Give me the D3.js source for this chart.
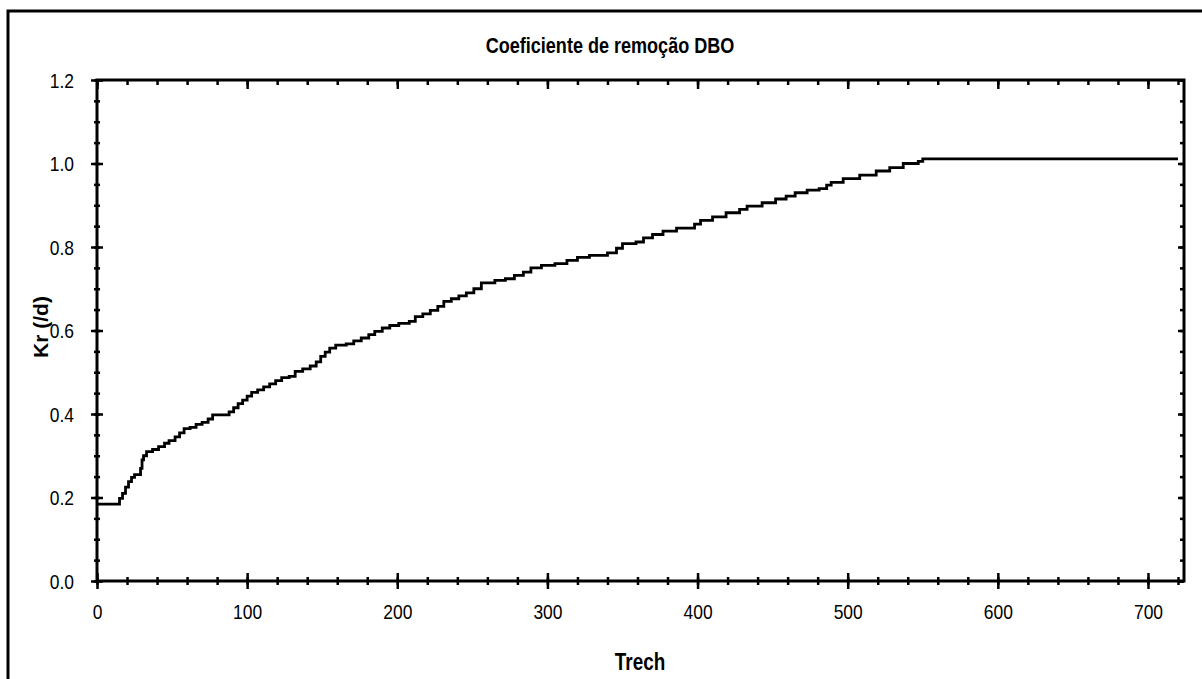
<!DOCTYPE html>
<html>
<head>
<meta charset="utf-8">
<script src="https://cdn.jsdelivr.net/npm/d3@7"></script>
<style>
  body { margin: 0; background: #fff; }
  text { font-family: "Liberation Sans", Arial, sans-serif; }
</style>
</head>
<body>
<div id="chart"></div>
<script>
// Trech (x) and Kr (/d) at each step start
const trech = [0, 15, 17, 19, 21, 23, 25, 29, 30, 31, 33, 37, 41, 45, 48, 52, 55, 58, 62, 66,
  70, 74, 77, 88, 91, 94, 97, 100, 103, 107, 111, 115, 119, 123, 128, 132, 137, 142, 146, 149,
  152, 155, 159, 166, 171, 176, 181, 185, 190, 195, 201, 208, 212, 217, 222, 227, 231, 236, 241, 246,
  251, 256, 265, 272, 278, 284, 289, 296, 305, 313, 320, 328, 340, 346, 350, 359, 364, 370, 377, 386,
  398, 402, 410, 419, 428, 433, 443, 452, 459, 465, 473, 481, 486, 489, 497, 508, 519, 528, 537, 547,
  550, 720];
const kr = [0.184, 0.198, 0.21, 0.225, 0.238, 0.248, 0.255, 0.27, 0.29, 0.3, 0.31, 0.315, 0.322, 0.33, 0.336, 0.345, 0.355, 0.365, 0.368, 0.375,
  0.38, 0.388, 0.398, 0.405, 0.415, 0.425, 0.433, 0.443, 0.452, 0.458, 0.465, 0.472, 0.48, 0.487, 0.49, 0.502, 0.508, 0.515, 0.525, 0.538,
  0.548, 0.558, 0.565, 0.568, 0.575, 0.582, 0.59, 0.598, 0.606, 0.612, 0.617, 0.622, 0.633, 0.64, 0.648, 0.658, 0.67, 0.676, 0.683, 0.69,
  0.7, 0.714, 0.72, 0.724, 0.732, 0.74, 0.75, 0.756, 0.76, 0.768, 0.775, 0.78, 0.786, 0.797, 0.808, 0.812, 0.822, 0.83, 0.838, 0.845,
  0.855, 0.864, 0.872, 0.882, 0.89, 0.898, 0.906, 0.915, 0.922, 0.93, 0.936, 0.94, 0.948, 0.955, 0.964, 0.972, 0.982, 0.99, 1.0, 1.005,
  1.011, 1.011];

const xTicks = [0, 100, 200, 300, 400, 500, 600, 700];
const yTicks = [0, 0.2, 0.4, 0.6, 0.8, 1.0, 1.2];
const xMinor = d3.range(0, 721, 20);
const yMinor = d3.range(0, 1.2001, 0.05);

const width = 1202, height = 679;
const plotLeft = 97, plotRight = 1184, plotTop = 80, plotBottom = 581;

const svg = d3.select("#chart").append("svg")
  .attr("width", width)
  .attr("height", height);

// squeeze text to look like a narrow face (no narrow font installed)
function narrow(sel, f) {
  sel.each(function() {
    const w = this.getComputedTextLength();
    if (w > 0) d3.select(this).attr("textLength", w * f).attr("lengthAdjust", "spacingAndGlyphs");
  });
}

// outer frame (only top and left edges fall inside the picture)
svg.append("path")
  .attr("d", `M8,${height} V11 H${width}`)
  .attr("fill", "none")
  .attr("stroke", "#000")
  .attr("stroke-width", 3);

const x = d3.scaleLinear().domain([0, 724]).range([plotLeft, plotRight]);
const y = d3.scaleLinear().domain([0, 1.2]).range([plotBottom, plotTop]);

function styleAxis(g, lo, hi, attr) {
  g.select(".domain").remove();
  g.selectAll(".tick line")
    .attr("stroke", "#000")
    .attr("stroke-width", 2.5)
    .attr(attr + "1", lo)
    .attr(attr + "2", hi);
}

// minor ticks
svg.append("g").attr("transform", `translate(${plotLeft},0)`)
  .call(d3.axisLeft(y).tickValues(yMinor).tickFormat(""))
  .call(g => styleAxis(g, 3, -3, "x"));
svg.append("g").attr("transform", `translate(${plotRight},0)`)
  .call(d3.axisLeft(y).tickValues(yMinor).tickFormat(""))
  .call(g => styleAxis(g, 0, -4, "x"));
svg.append("g").attr("transform", `translate(0,${plotBottom})`)
  .call(d3.axisBottom(x).tickValues(xMinor).tickFormat(""))
  .call(g => styleAxis(g, -4, 4, "y"));
svg.append("g").attr("transform", `translate(0,${plotTop})`)
  .call(d3.axisBottom(x).tickValues(xMinor).tickFormat(""))
  .call(g => styleAxis(g, 0, 5, "y"));

// major ticks + labels
svg.append("g").attr("transform", `translate(${plotLeft},0)`)
  .call(d3.axisLeft(y).tickValues(yTicks).tickFormat(d3.format(".1f")).tickPadding(17))
  .call(g => styleAxis(g, 6, -6, "x"))
  .call(g => g.selectAll("text")
    .attr("font-family", "'Liberation Sans', Arial, sans-serif")
    .attr("font-size", 21).attr("fill", "#000").attr("dy", "0.35em")
    .call(narrow, 0.83));
svg.append("g").attr("transform", `translate(${plotRight},0)`)
  .call(d3.axisLeft(y).tickValues(yTicks).tickFormat(""))
  .call(g => styleAxis(g, 0, -6, "x"));
svg.append("g").attr("transform", `translate(0,${plotBottom})`)
  .call(d3.axisBottom(x).tickValues(xTicks).tickFormat(d3.format("d")).tickPadding(17))
  .call(g => styleAxis(g, -8, 8, "y"))
  .call(g => g.selectAll("text")
    .attr("font-family", "'Liberation Sans', Arial, sans-serif")
    .attr("font-size", 21).attr("fill", "#000")
    .call(narrow, 0.83));
svg.append("g").attr("transform", `translate(0,${plotTop})`)
  .call(d3.axisBottom(x).tickValues(xTicks).tickFormat(""))
  .call(g => styleAxis(g, 0, 9, "y"));

// frame of plot area
svg.append("rect")
  .attr("x", plotLeft).attr("y", plotTop)
  .attr("width", plotRight - plotLeft).attr("height", plotBottom - plotTop)
  .attr("fill", "none")
  .attr("stroke", "#000")
  .attr("stroke-width", 3);

// the curve
const data = trech.map((t, i) => ({ t: t, k: kr[i] }));
svg.append("path")
  .datum(data)
  .attr("fill", "none")
  .attr("stroke", "#000")
  .attr("stroke-width", 2.8)
  .attr("d", d3.line().x(d => x(d.t)).y(d => y(d.k)).curve(d3.curveStepAfter));

// titles
svg.append("text")
  .attr("x", 610).attr("y", 53)
  .attr("text-anchor", "middle")
  .attr("font-size", 22).attr("font-weight", "bold")
  .text("Coeficiente de remoção DBO")
  .call(narrow, 0.82);

svg.append("text")
  .attr("x", 640).attr("y", 670)
  .attr("text-anchor", "middle")
  .attr("font-size", 23).attr("font-weight", "bold")
  .text("Trech")
  .call(narrow, 0.82);

svg.append("text")
  .attr("transform", "translate(48,327) rotate(-90)")
  .attr("text-anchor", "middle")
  .attr("font-size", 21).attr("font-weight", "bold")
  .text("Kr (/d)");
</script>
</body>
</html>
